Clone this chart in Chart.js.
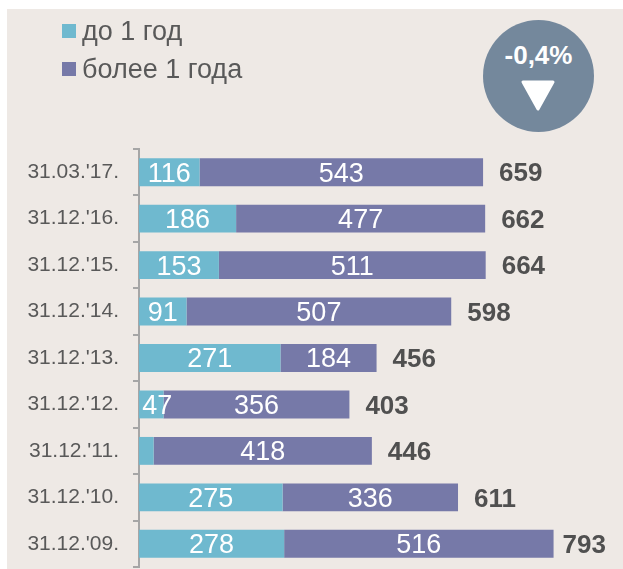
<!DOCTYPE html>
<html>
<head>
<meta charset="utf-8">
<script src="https://cdn.jsdelivr.net/npm/chart.js@4"></script>
<style>
html, body { margin: 0; padding: 0; background: #fff; }
body { width: 623px; height: 569px; overflow: hidden; position: relative; font-family: "Liberation Sans", Arial, sans-serif; }
#panel { position: absolute; left: 7px; top: 9px; width: 616px; height: 560px; background: #eee9e5; }
#chartBox { position: absolute; left: 0; top: 0; width: 623px; height: 569px; }
.legend { position: absolute; left: 62px; color: #595959; font-size: 27px; line-height: 30px; white-space: nowrap; }
.legend i { position: absolute; left: 0; top: 8px; width: 14px; height: 14px; }
.legend span { margin-left: 20px; }
#badge { position: absolute; left: 483px; top: 20px; width: 111px; height: 112px; border-radius: 50%; background: #74889c; color: #fff; font-weight: bold; font-size: 26px; text-align: center; line-height: 28px; }
#badge div { margin-top: 21px; }
#badge svg { position: absolute; left: 37px; top: 60px; }
</style>
</head>
<body>
<div id="panel"></div>
<div id="chartBox"><canvas id="debtChart" width="623" height="569"></canvas></div>
<div id="legendBox"></div>
<div id="badge"><div>-0,4%</div><svg width="36" height="32"><path d="M3 2 L33 2 L18 29 Z" fill="#fff" stroke="#fff" stroke-width="3" stroke-linejoin="round"/></svg></div>
<script>
// Data
const categories = ["31.03.'17.", "31.12.'16.", "31.12.'15.", "31.12.'14.", "31.12.'13.", "31.12.'12.", "31.12.'11.", "31.12.'10.", "31.12.'09."];
const shortTerm = [116, 186, 153, 91, 271, 47, 28, 275, 278];
const longTerm = [543, 477, 511, 507, 184, 356, 418, 336, 516];
const totals = [659, 662, 664, 598, 456, 403, 446, 611, 793];
// the picture prints no label on this short bar
const hiddenShortLabels = ["31.12.'11."];
const seriesNames = ['до 1 год', 'более 1 года'];
const seriesColors = ['#6fb9cf', '#7679a8'];

// Legend
const legendBox = document.getElementById('legendBox');
seriesNames.forEach(function(name, i) {
    const row = document.createElement('div');
    row.className = 'legend';
    row.style.top = (16 + i * 38) + 'px';
    row.innerHTML = '<i style="background:' + seriesColors[i] + '"></i><span>' + name + '</span>';
    legendBox.appendChild(row);
});

// Draws the values inside the bars and the totals after them
const barLabels = {
    id: 'barLabels',
    afterDatasetsDraw(chart) {
        const ctx = chart.ctx;
        ctx.save();
        ctx.textBaseline = 'middle';
        ctx.textAlign = 'center';
        ctx.fillStyle = '#fff';
        ctx.font = '27px "Liberation Sans", Arial, sans-serif';
        chart.data.datasets.forEach(function(ds, d) {
            chart.getDatasetMeta(d).data.forEach(function(bar, i) {
                if (d === 0 && hiddenShortLabels.includes(categories[i])) return;
                const p = bar.getProps(['x', 'base', 'y'], true);
                // 47 does not fit its bar, so it sits a little to the right
                const shift = (d === 0 && ds.data[i] < 50) ? 6 : 0;
                ctx.fillText(ds.data[i], (p.x + p.base) / 2 + shift, p.y + 2);
            });
        });
        ctx.textAlign = 'left';
        ctx.fillStyle = '#505050';
        ctx.font = 'bold 26px "Liberation Sans", Arial, sans-serif';
        chart.getDatasetMeta(1).data.forEach(function(bar, i) {
            // the longest bar has less room, so its total sits closer
            const gap = totals[i] === Math.max(...totals) ? 9 : 16;
            ctx.fillText(totals[i], bar.x + gap, bar.y + 2);
        });
        ctx.restore();
    }
};

new Chart(document.getElementById('debtChart'), {
    type: 'bar',
    data: {
        labels: categories,
        datasets: [
            { label: seriesNames[0], data: shortTerm, backgroundColor: seriesColors[0] },
            { label: seriesNames[1], data: longTerm, backgroundColor: seriesColors[1] }
        ]
    },
    options: {
        indexAxis: 'y',
        responsive: false,
        animation: false,
        layout: { padding: { left: 0, right: 0, top: 149, bottom: 2 } },
        plugins: { legend: { display: false }, tooltip: { enabled: false } },
        scales: {
            x: {
                stacked: true,
                display: false,
                min: 0,
                max: 927
            },
            y: {
                stacked: true,
                afterFit(axis) {
                    axis.width = 139;
                    axis.paddingTop = 0;
                    axis.paddingBottom = 0;
                },
                border: { color: '#a6a6a6', width: 2 },
                grid: { drawOnChartArea: false, color: '#a6a6a6', lineWidth: 2, tickLength: 6 },
                ticks: {
                    color: '#595959',
                    padding: 14,
                    font: { size: 21, family: '"Liberation Sans", Arial, sans-serif' }
                }
            }
        },
        datasets: { bar: { categoryPercentage: 0.6, barPercentage: 1 } }
    },
    plugins: [barLabels]
});
</script>
</body>
</html>
